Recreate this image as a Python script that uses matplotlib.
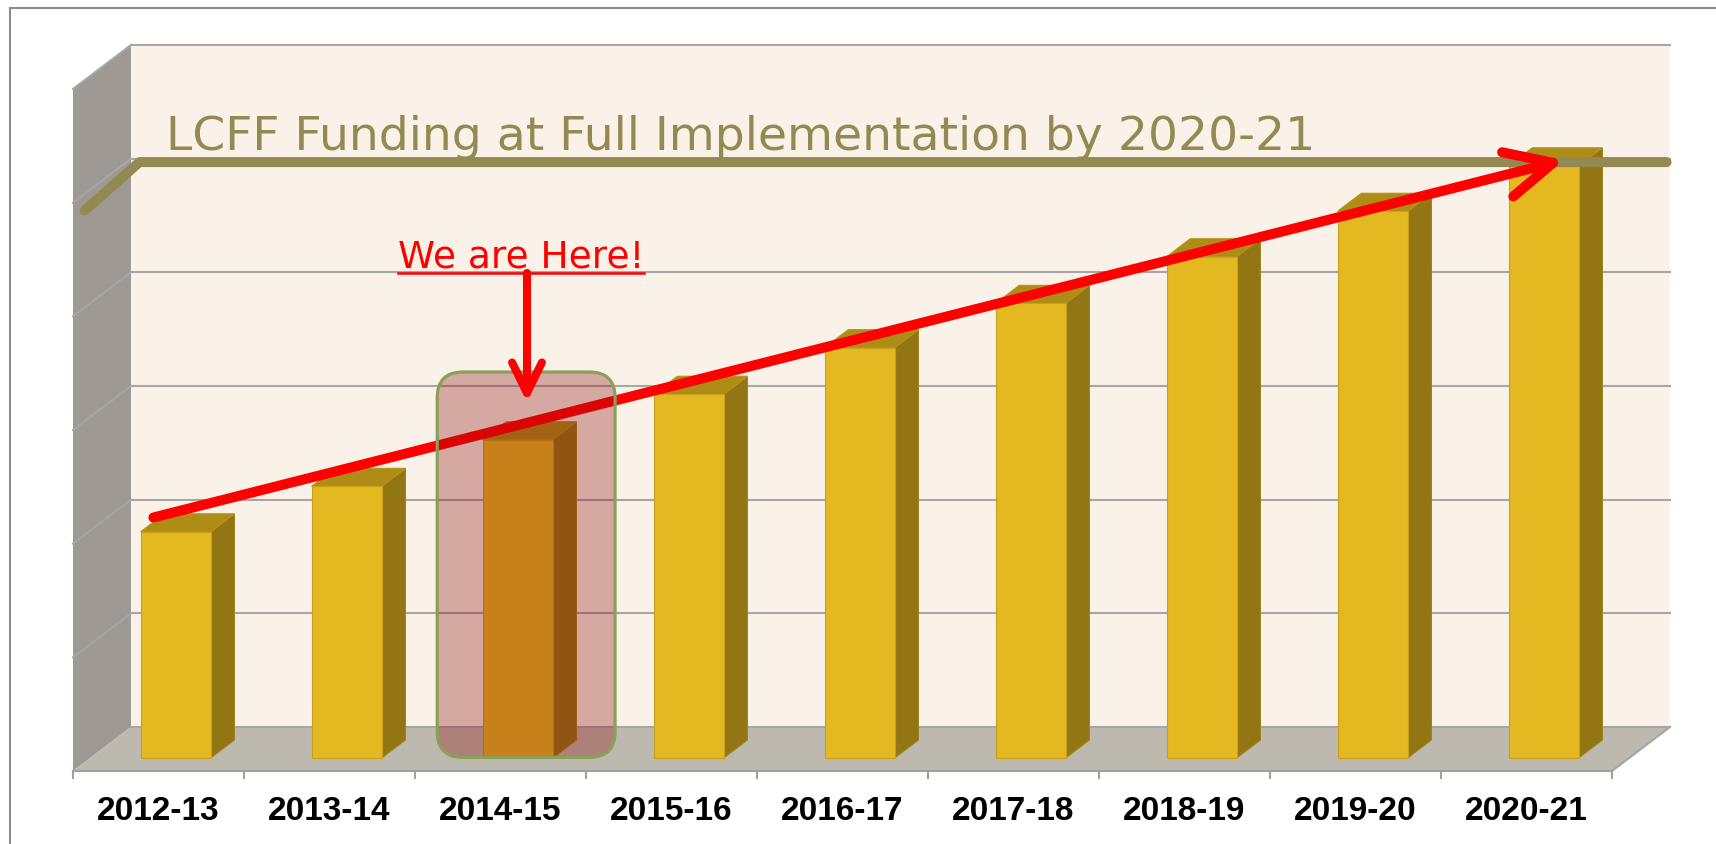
import matplotlib
matplotlib.use('agg')
import matplotlib.pyplot as plt
from matplotlib.patches import Polygon, FancyBboxPatch
from matplotlib.lines import Line2D
import numpy as np

# donnees (unites arbitraires, quadrillage tous les 10)
years = ["2012-13", "2013-14", "2014-15", "2015-16", "2016-17",
         "2017-18", "2018-19", "2019-20", "2020-21"]
funding = [19.9, 23.9, 28.0, 32.0, 36.1, 40.0, 44.1, 48.1, 52.1]
grid_vals = [10, 20, 30, 40, 50, 60]
full_impl = 49.7
here_idx = 2
title = "LCFF Funding at Full Implementation by 2020-21"
here_txt = "We are Here!"

W, H, DPI = 1716, 844, 100
DX, DY = 0.339, 3.87     # profondeur de la boite 3d (unites donnees)
VMAX = 60
n = len(years)

fig = plt.figure(figsize=(W / DPI, H / DPI), dpi=DPI, facecolor='white')
ax = fig.add_axes([73 / W, 73 / H, 1539 / W, 726 / H])
ax.set_xlim(0, n)
ax.set_ylim(0, VMAX + DY)
ax.patch.set_visible(False)


def P(x, v, d):
    return (x + DX * d, v + DY * d)


def poly(pts, fc, z, ec='none', lw=0):
    ax.add_patch(Polygon(pts, closed=True, facecolor=fc, edgecolor=ec,
                         linewidth=lw, zorder=z, clip_on=False))


def seg(p0, p1, **kw):
    ax.plot([p0[0], p1[0]], [p0[1], p1[1]], clip_on=False, **kw)


# murs et sol
poly([P(0, 0, 1), P(n, 0, 1), P(n, VMAX, 1), P(0, VMAX, 1)], '#FAF2E8', 1)
poly([P(0, 0, 0), P(0, 0, 1), P(0, VMAX, 1), P(0, VMAX, 0)], '#9E9A93', 1)
poly([P(0, 0, 0), P(n, 0, 0), P(n, 0, 1), P(0, 0, 1)], '#BDB9AE', 1)

grid = dict(color='#A6A6A6', lw=1.5, zorder=2)
for v in grid_vals:
    seg(P(0, v, 1), P(n, v, 1), **grid)
    seg(P(0, v, 0), P(0, v, 1), **grid)
seg(P(0, 0, 1), P(n, 0, 1), **grid)
seg(P(n, 0, 0), P(n, 0, 1), **grid)

# barres 3d
bw, d0, d1 = 0.41, 0.295, 0.705
for i, v in enumerate(funding):
    x0, x1 = i + 0.5 - bw / 2, i + 0.5 + bw / 2
    poly([P(x1, 0, d0), P(x1, 0, d1), P(x1, v, d1), P(x1, v, d0)], '#937614', 3, '#A08318', 0.8)
    poly([P(x0, v, d0), P(x1, v, d0), P(x1, v, d1), P(x0, v, d1)], '#AF8C16', 3, '#B89318', 0.8)
    poly([P(x0, 0, d0), P(x1, 0, d0), P(x1, v, d0), P(x0, v, d0)], '#E4B820', 3, '#C9A01C', 0.8)

# axe
for s in ['top', 'right', 'left']:
    ax.spines[s].set_visible(False)
ax.spines['bottom'].set_color('#A0A0A0')
ax.spines['bottom'].set_linewidth(1.5)
ax.set_yticks([])
ax.set_xticks(np.arange(n) + 0.5, years)
ax.set_xticks(np.arange(n + 1), minor=True)
ax.tick_params(axis='x', which='major', length=0, pad=18, labelsize=24)
ax.tick_params(axis='x', which='minor', length=6, width=1.5, color='#A0A0A0', direction='out')
for lab in ax.get_xticklabels():
    lab.set_fontfamily('Liberation Sans')
    lab.set_fontweight('bold')

# ligne "full implementation"
olive = '#938953'
ax.plot([DX * 0.2, DX + 0.05, n + DX - 0.02],
        [full_impl - 0.4, full_impl + DY, full_impl + DY],
        color=olive, lw=7.2, solid_capstyle='round', solid_joinstyle='round',
        zorder=6, clip_on=False)
ax.text(DX + 0.205, full_impl + DY + 1.06, title, fontsize=34, color=olive,
        family='DejaVu Sans', va='baseline', ha='left', zorder=7)


# fleches rouges
def arrow(p0, p1, lw, head, z, ang=26):
    a = ax.transData.transform(p0)
    b = ax.transData.transform(p1)
    u = (a - b) / np.hypot(*(a - b))
    ends = []
    for s in (1, -1):
        t = np.radians(s * ang)
        r = np.array([u[0] * np.cos(t) - u[1] * np.sin(t),
                      u[0] * np.sin(t) + u[1] * np.cos(t)])
        ends.append(ax.transData.inverted().transform(b + head * r))
    kw = dict(color='#FF0000', lw=lw, solid_capstyle='round',
              solid_joinstyle='round', zorder=z, clip_on=False)
    ax.plot([p0[0], p1[0]], [p0[1], p1[1]], **kw)
    ax.plot([ends[0][0], p1[0], ends[1][0]], [ends[0][1], p1[1], ends[1][1]], **kw)


arrow((0.47, funding[0] + 2.4), (n - 1 + 0.655, funding[-1] + 1.4), 7.2, 52, 8)

# encadre "We are Here"
px_x = ax.transData.transform((1, 0))[0] - ax.transData.transform((0, 0))[0]
px_y = ax.transData.transform((0, 1))[1] - ax.transData.transform((0, 0))[1]
bx0, bx1 = here_idx + 0.13, here_idx + 1.17
by0, by1 = 1.2, funding[here_idx] + 7.1
ax.add_patch(FancyBboxPatch((bx0, by0), bx1 - bx0, by1 - by0,
                            boxstyle='round,pad=0,rounding_size=0.15',
                            mutation_aspect=px_x / px_y,
                            facecolor=(0.553, 0.051, 0.059, 0.32),
                            edgecolor='#89A05A', linewidth=2.3, zorder=9, clip_on=False))

here_y = funding[here_idx] + 16.3
ax_x = here_idx + 0.655
t = ax.text(here_idx + 0.62, here_y, here_txt, fontsize=27, color='#FF0000',
            family='DejaVu Sans', ha='center', va='baseline', zorder=10)
bb = t.get_window_extent(fig.canvas.get_renderer())
ux = ax.transData.inverted().transform([[bb.x0, 0], [bb.x1, 0]])[:, 0]
ax.plot(ux, [here_y - 0.5] * 2, color='#FF0000', lw=1.8, zorder=10, clip_on=False)
arrow((ax_x, here_y - 0.5), (ax_x, funding[here_idx] + 5.25), 5.8, 34, 10)

# cadre gris
fr = dict(color='#8C8C8C', lw=1.5)
fig.add_artist(Line2D([10 / W, 10 / W], [0, 1 - 8 / H], **fr))
fig.add_artist(Line2D([10 / W, 1], [1 - 8 / H, 1 - 8 / H], **fr))

fig.savefig('out.png', dpi=DPI)
